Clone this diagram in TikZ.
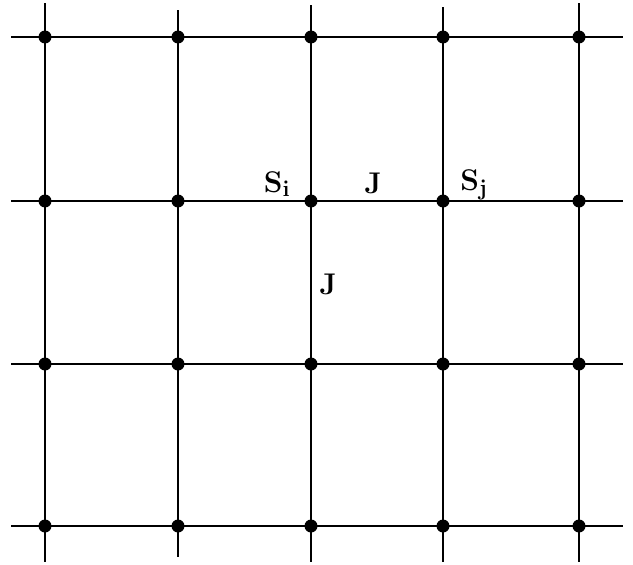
\documentclass[tikz,border=0pt]{standalone}
\usepackage{graphicx}
\newcommand{\biglbl}[1]{\scalebox{1.3}{#1}}
\begin{document}
\begin{tikzpicture}[x=1pt,y=-1pt,
  gridline/.style={line width=1.6pt,black},
  site/.style={circle,fill=black,inner sep=0pt,minimum size=13pt},
  lbl/.style={font=\fontsize{23}{27}\selectfont\bfseries,inner sep=0pt}]
\useasboundingbox (0,0) rectangle (633,565);
% vertical lines
\foreach \x/\t/\b [count=\c] in {45/3/562,178/10/557,311/5/562,443/7/562,579/3/562}{
  \coordinate (vt\c) at (\x,\t);
  \coordinate (vb\c) at (\x,\b);
  \draw[gridline] (vt\c) -- (vb\c);
}
% horizontal lines
\foreach \y [count=\r] in {37,201,364,526}{
  \coordinate (hl\r) at (11,\y);
  \coordinate (hr\r) at (623,\y);
  \draw[gridline] (hl\r) -- (hr\r);
}
% sites
\foreach \x [count=\c] in {45,178,311,443,579}{
  \foreach \y [count=\r] in {37,201,364,526}{
    \node[site] (s\c\r) at (\x,\y) {};
  }
}
% labels
\node[lbl] (si) at (277,184) {\biglbl{S$_{\mathbf{i}}$}};
\node[lbl] (jh) at (373,183) {\biglbl{J}};
\node[lbl] (sj) at (474,185) {\biglbl{S$_{\mathbf{j}}$}};
\node[lbl] (jv) at (328,284) {\biglbl{J}};
\end{tikzpicture}
\end{document}
